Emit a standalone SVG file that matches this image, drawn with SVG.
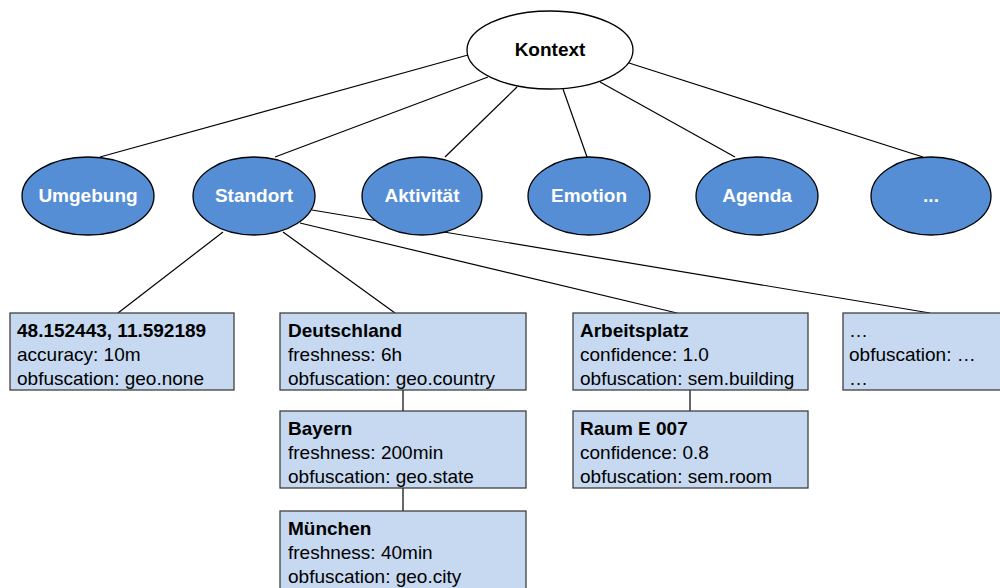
<svg xmlns="http://www.w3.org/2000/svg" width="1000" height="588" viewBox="0 0 1000 588">
  <style>
    .edge { stroke: #000; stroke-width: 1.2; fill: none; }
    .root { fill: #fff; stroke: #000; stroke-width: 1.3; }
    .cat { fill: #558ED5; stroke: #000; stroke-width: 1.3; }
    .card { fill: #C6D9F0; stroke: #404040; stroke-width: 1.3; }
    text { font-family: "Liberation Sans", Arial, sans-serif; font-size: 19px; }
    .rootlabel { font-weight: bold; fill: #000; text-anchor: middle; }
    .catlabel { font-weight: bold; fill: #fff; text-anchor: middle; }
    .title { font-weight: bold; fill: #000; }
    .attr { fill: #000; }
  </style>

  <rect width="1000" height="588" fill="#fff"/>

  <!-- connectors, drawn beneath the nodes -->
  <g id="connectors">
    <line class="edge" x1="468" y1="55" x2="100" y2="157"/>
    <line class="edge" x1="488" y1="77" x2="275" y2="157"/>
    <line class="edge" x1="517" y1="87" x2="445" y2="157"/>
    <line class="edge" x1="563" y1="89" x2="587" y2="157"/>
    <line class="edge" x1="600" y1="82" x2="735" y2="157"/>
    <line class="edge" x1="629" y1="63" x2="923" y2="157"/>
    <line class="edge" x1="223" y1="232" x2="118" y2="313"/>
    <line class="edge" x1="283" y1="232" x2="395" y2="313"/>
    <line class="edge" x1="300" y1="223" x2="677" y2="313"/>
    <line class="edge" x1="312" y1="210" x2="930" y2="313"/>
    <line class="edge" x1="403" y1="390" x2="403" y2="411"/>
    <line class="edge" x1="403" y1="488" x2="403" y2="511"/>
    <line class="edge" x1="690" y1="390" x2="690" y2="411"/>
  </g>

  <g id="kontext">
    <ellipse class="root" cx="550" cy="50" rx="83" ry="39"/>
    <text class="rootlabel" x="550" y="56">Kontext</text>
  </g>

  <g id="umgebung">
    <ellipse class="cat" cx="88" cy="196" rx="66" ry="39"/>
    <text class="catlabel" x="88" y="202">Umgebung</text>
  </g>
  <g id="standort">
    <ellipse class="cat" cx="254" cy="196" rx="61" ry="39"/>
    <text class="catlabel" x="254" y="202">Standort</text>
  </g>
  <g id="aktivitaet">
    <ellipse class="cat" cx="422" cy="196" rx="60" ry="39"/>
    <text class="catlabel" x="422" y="202">Aktivität</text>
  </g>
  <g id="emotion">
    <ellipse class="cat" cx="589" cy="196" rx="61" ry="39"/>
    <text class="catlabel" x="589" y="202">Emotion</text>
  </g>
  <g id="agenda">
    <ellipse class="cat" cx="757" cy="196" rx="61" ry="39"/>
    <text class="catlabel" x="757" y="202">Agenda</text>
  </g>
  <g id="weitere">
    <ellipse class="cat" cx="931" cy="196" rx="60" ry="39"/>
    <text class="catlabel" x="931" y="202">...</text>
  </g>

  <g id="koordinaten">
    <rect class="card" x="10" y="313" width="224" height="77"/>
    <text class="title" x="17" y="337">48.152443, 11.592189</text>
    <text class="attr" x="17" y="361">accuracy: 10m</text>
    <text class="attr" x="17" y="385">obfuscation: geo.none</text>
  </g>
  <g id="deutschland">
    <rect class="card" x="280" y="313" width="246" height="77"/>
    <text class="title" x="288" y="337">Deutschland</text>
    <text class="attr" x="288" y="361">freshness: 6h</text>
    <text class="attr" x="288" y="385">obfuscation: geo.country</text>
  </g>
  <g id="arbeitsplatz">
    <rect class="card" x="573" y="313" width="235" height="77"/>
    <text class="title" x="580" y="337">Arbeitsplatz</text>
    <text class="attr" x="580" y="361">confidence: 1.0</text>
    <text class="attr" x="580" y="385">obfuscation: sem.building</text>
  </g>
  <g id="weitere-orte">
    <rect class="card" x="843" y="313" width="170" height="77"/>
    <text class="attr" x="849" y="337">…</text>
    <text class="attr" x="849" y="361">obfuscation: …</text>
    <text class="attr" x="849" y="385">…</text>
  </g>
  <g id="bayern">
    <rect class="card" x="280" y="411" width="246" height="77"/>
    <text class="title" x="288" y="435">Bayern</text>
    <text class="attr" x="288" y="459">freshness: 200min</text>
    <text class="attr" x="288" y="483">obfuscation: geo.state</text>
  </g>
  <g id="raum">
    <rect class="card" x="573" y="411" width="235" height="77"/>
    <text class="title" x="580" y="435">Raum E 007</text>
    <text class="attr" x="580" y="459">confidence: 0.8</text>
    <text class="attr" x="580" y="483">obfuscation: sem.room</text>
  </g>
  <g id="muenchen">
    <rect class="card" x="280" y="511" width="246" height="90"/>
    <text class="title" x="288" y="535">München</text>
    <text class="attr" x="288" y="559">freshness: 40min</text>
    <text class="attr" x="288" y="583">obfuscation: geo.city</text>
  </g>
</svg>
